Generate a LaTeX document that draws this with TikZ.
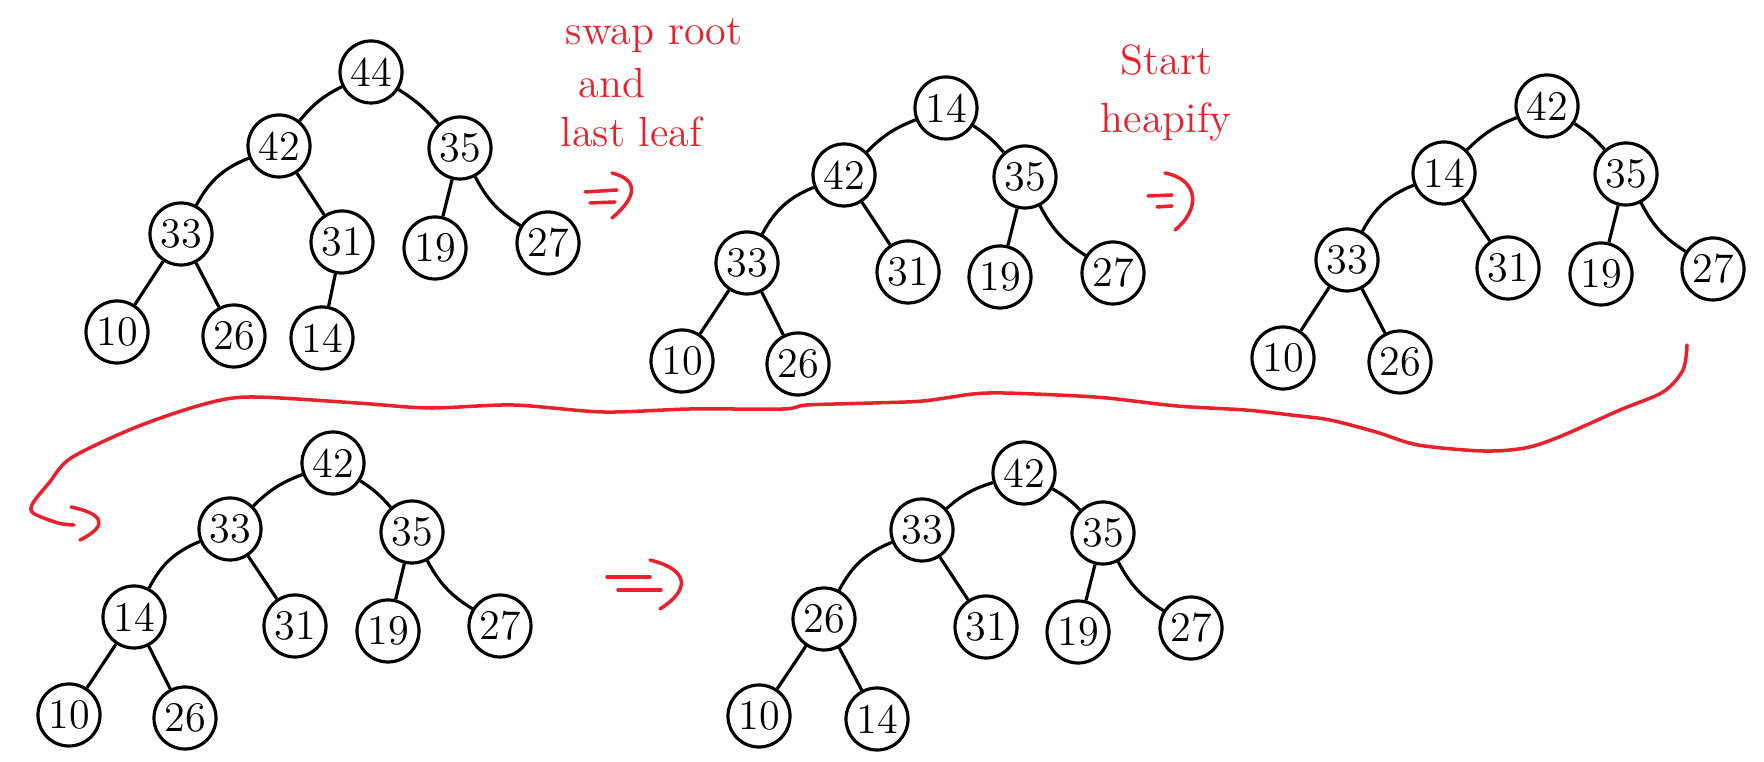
\documentclass[tikz,border=0pt]{standalone}
\usepackage{tikz}
\usetikzlibrary{positioning, calc}
\definecolor{handred}{HTML}{E8222C}
\definecolor{handblack}{HTML}{000000}

\begin{document}
\begin{tikzpicture}[x=0.01cm, y=-0.01cm,
      key/.style={circle, draw=handblack, line width=0.9pt, minimum size=0.62cm, inner sep=0pt, font=\fontsize{12}{14}\selectfont},
      link/.style={draw=handblack, line width=0.9pt},
      note/.style={text=handred, font=\fontsize{12}{14}\selectfont, inner sep=0pt, anchor=base west},
      pen/.style={draw=handred, line width=1pt, line cap=round, line join=round}
    ]
      \useasboundingbox (0,0) rectangle (1764,762);

      % Tree A: before the swap
      \node[key] (A0) at (371,72) {44};
      \node[key] (A1) at (279,146) {42};
      \node[key] (A2) at (460,148) {35};
      \node[key] (A3) at (181,234) {33};
      \node[key] (A4) at (342,242) {31};
      \node[key] (A5) at (435,248) {19};
      \node[key] (A6) at (548,243) {27};
      \node[key] (A7) at (117,332) {10};
      \node[key] (A8) at (234,336) {26};
      \node[key] (A9) at (322,338) {14};

      % Tree B: after the swap
      \node[key] (B0) at (946,108) {14};
      \node[key] (B1) at (844,175) {42};
      \node[key] (B2) at (1025,177) {35};
      \node[key] (B3) at (747,263) {33};
      \node[key] (B4) at (908,272) {31};
      \node[key] (B5) at (1000,277) {19};
      \node[key] (B6) at (1113,273) {27};
      \node[key] (B7) at (682,361) {10};
      \node[key] (B8) at (798,364) {26};

      % Tree C
      \node[key] (C0) at (1547,106) {42};
      \node[key] (C1) at (1444,173) {14};
      \node[key] (C2) at (1626,174) {35};
      \node[key] (C3) at (1347,260) {33};
      \node[key] (C4) at (1508,268) {31};
      \node[key] (C5) at (1601,274) {19};
      \node[key] (C6) at (1713,269) {27};
      \node[key] (C7) at (1283,358) {10};
      \node[key] (C8) at (1400,362) {26};

      % Tree D
      \node[key] (D0) at (333,463) {42};
      \node[key] (D1) at (230,529) {33};
      \node[key] (D2) at (412,532) {35};
      \node[key] (D3) at (134,617) {14};
      \node[key] (D4) at (295,626) {31};
      \node[key] (D5) at (388,631) {19};
      \node[key] (D6) at (500,626) {27};
      \node[key] (D7) at (69,715) {10};
      \node[key] (D8) at (185,718) {26};

      % Tree E
      \node[key] (E0) at (1024,473) {42};
      \node[key] (E1) at (922,530) {33};
      \node[key] (E2) at (1103,533) {35};
      \node[key] (E3) at (824,619) {26};
      \node[key] (E4) at (986,627) {31};
      \node[key] (E5) at (1078,632) {19};
      \node[key] (E6) at (1191,628) {27};
      \node[key] (E7) at (759,716) {10};
      \node[key] (E8) at (877,719) {14};

      % Tree edges
      \foreach \t in {A,B,C,D,E} {
        \foreach \p/\c/\b in {0/1/-12, 0/2/8, 1/3/-20, 1/4/0, 2/5/0, 2/6/-15, 3/7/0, 3/8/0} {
          \draw[link] (\t\p) to[bend left=\b] (\t\c);
        }
      }
      \draw[link] (A4) -- (A9);

      % Red notes
      \node[note] (swap) at (565,45) {swap root};
      \node[note] (and) at (578,98) {and};
      \node[note] (last) at (560,147) {last leaf};
      \node[note] (start) at (1120,75) {Start};
      \node[note] (heapify) at (1100,133) {heapify};

      % Implies arrows
      \draw[pen] (585,192) -- (617,190);
      \draw[pen] (590,203) -- (615,202);
      \draw[pen] (612,173) .. controls (640,180) and (636,198) .. (612,218);

      \draw[pen] (1148,196) -- (1172,195);
      \draw[pen] (1157,207) -- (1172,206);
      \draw[pen] (1165,173) .. controls (1200,180) and (1200,210) .. (1175,230);

      \draw[pen] (607,577) -- (650,577);
      \draw[pen] (618,590) -- (661,590);
      \draw[pen] (650,560) .. controls (690,570) and (690,590) .. (660,609);

      % Long return curve
      \coordinate (loopstart) at (1687,345);
      \coordinate (loopend) at (74,525);
      \draw[pen] plot[smooth, tension=0.5] coordinates {(loopstart) (1683,370) (1663,392) (1620,410) (1559,437) (1525,448) (1483,451) (1418,445) (1376,432) (1330,420) (1291,415) (1245,410) (1177,406) (1107,398) (1057,395) (1003,393) (973,394) (923,401) (873,403) (807,405) (783,409) (690,409) (603,412) (513,405) (429,408) (357,403) (250,397) (201,405) (134,428) (71,458) (49,483) (33,503) (33,513) (58,523) (loopend)};
      \draw[pen] (71,507) .. controls (100,513) and (112,524) .. (80,540);
    \end{tikzpicture}
\end{document}
